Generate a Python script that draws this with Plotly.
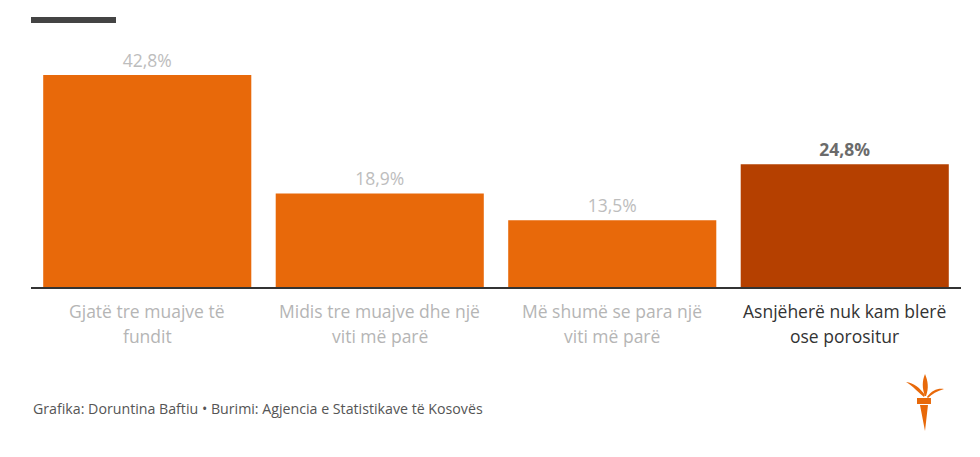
import plotly.graph_objects as go

categories = ["Gjatë tre muajve të<br>fundit",
              "Midis tre muajve dhe një<br>viti më parë",
              "Më shumë se para një<br>viti më parë",
              "Asnjëherë nuk kam blerë<br>ose porositur"]
values = [42.8, 18.9, 13.5, 24.8]
highlight = [False, False, False, True]

bar_colors = ["#B54000" if h else "#E8690A" for h in highlight]
label_colors = ["#6b6b6b" if h else "#bdbdbd" for h in highlight]
cat_colors = ["#333333" if h else "#b5b5b5" for h in highlight]
texts = [("<b>%s</b>" if h else "%s") % (f"{v:.1f}%".replace(".", ",")) for v, h in zip(values, highlight)]

fig = go.Figure()
fig.add_trace(go.Bar(
    x=list(range(len(categories))), y=values,
    marker=dict(color=bar_colors, line=dict(width=0)),
    text=texts, textposition="outside", cliponaxis=False,
    textfont=dict(color=label_colors, size=17.5, family="Open Sans"),
    hoverinfo="skip",
))

for i, (c, col) in enumerate(zip(categories, cat_colors)):
    for j, line in enumerate(c.split("<br>")):
        fig.add_annotation(x=i, y=0, xref="x", yref="y", text=line, showarrow=False,
                           yanchor="middle", yshift=-24 - 25 * j, align="center",
                           font=dict(size=17.5, color=col, family="Open Sans"))

fig.add_annotation(x=0, y=-0.49, xref="paper", yref="paper", xanchor="left",
                   yanchor="middle", showarrow=False, align="left",
                   text="Grafika: Doruntina Baftiu • Burimi: Agjencia e Statistikave të Kosovës",
                   font=dict(size=14.2, color="#555555", family="Open Sans"))

# top dark rule
fig.add_shape(type="rect", xref="paper", yref="paper", x0=0, x1=85/930,
              y0=(287-17)/247, y1=(287-23)/247, fillcolor="#444444", line=dict(width=0))

# torch logo (approximate), screen coords converted to paper coords
torch = ("M 920 405 L 928 405 L 925 431 Z "
         "M 917 398 L 931 398 L 931 404 L 917 404 Z "
         "M 924 397 C 916 390 910 384 906 382 C 914 383 920 388 925 395 Z "
         "M 925 396 C 922 388 922 381 925 374 C 928 381 929 388 926 396 Z "
         "M 927 397 C 932 390 938 388 944 389 C 937 391 932 394 928 398 Z")

def conv(path):
    out = []
    toggle = 0
    for tok in path.split():
        if tok.replace('.', '').isdigit():
            v = float(tok)
            if toggle == 0:
                out.append(f"{(v-31)/930:.4f}")
            else:
                out.append(f"{(287-v)/247:.4f}")
            toggle ^= 1
        else:
            out.append(tok)
    return " ".join(out)

fig.add_shape(type="path", xref="paper", yref="paper", path=conv(torch),
              fillcolor="#E8690A", line=dict(width=0))

# page body has 8px default margin: compensate
fig.update_layout(
    width=980, height=457,
    margin=dict(l=23, r=27, t=32, b=178),
    paper_bgcolor="white", plot_bgcolor="white",
    bargap=0.105, showlegend=False,
    xaxis=dict(range=[-0.5, 3.5], showticklabels=False, showgrid=False, zeroline=False,
               showline=True, linecolor="#333333", linewidth=1.5, ticks=""),
    yaxis=dict(range=[0, 247/4.953], visible=False, showgrid=False, zeroline=False),
    font=dict(family="Open Sans"),
)

fig.write_html("out.html")
